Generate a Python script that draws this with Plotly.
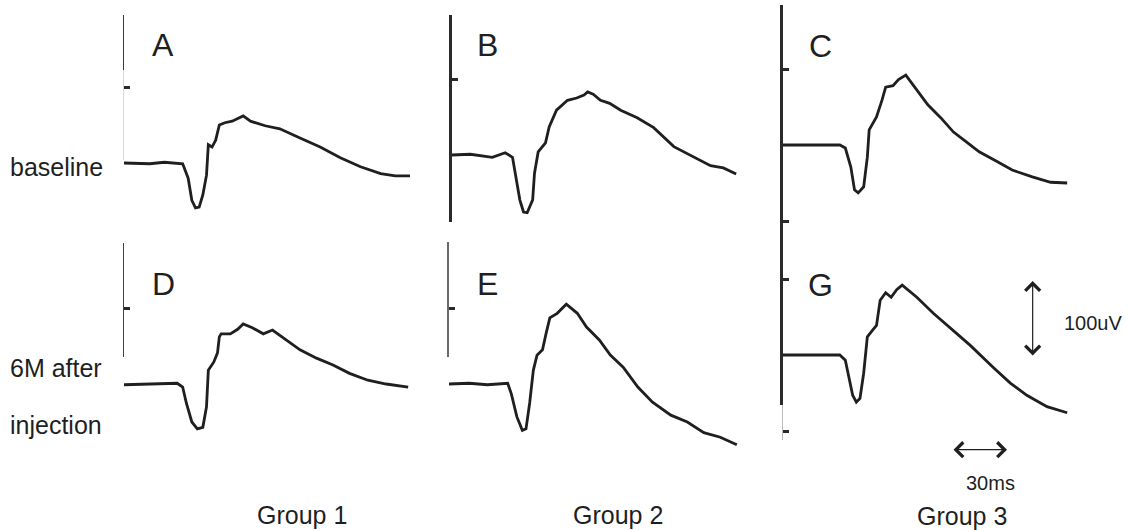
import plotly.graph_objects as go

# ---------------- data (time in ms, amplitude in uV) ----------------
A_t = [0, 14, 22, 31, 32, 35, 37, 39, 41, 43, 45, 46, 48, 50, 52, 55, 59, 65, 69, 77, 85, 96, 107, 118, 129, 140, 148, 156]
A_v = [0, -1, 1, 0, -1, -20, -49, -59, -58, -42, -16, 24, 21, 30, 50, 53, 55, 62, 55, 49, 45, 33, 21, 7, -5, -14, -17, -17]

B_t = [0, 10, 22, 29, 33, 35, 37, 39, 41, 44, 45, 47, 51, 53, 57, 63, 68, 72, 74, 77, 81, 86, 92, 101, 110, 121, 130, 141, 148, 155]
B_v = [0, 1, -3, 3, -3, -29, -59, -75, -76, -59, -24, 4, 16, 37, 59, 72, 75, 79, 83, 80, 72, 68, 59, 49, 36, 11, 0, -14, -17, -25]

C_t = [0, 31, 34, 37, 39, 41, 44, 46, 47, 51, 54, 56, 60, 63, 67, 71, 79, 86, 93, 100, 107, 117, 125, 136, 146, 155]
C_v = [0, 0, -4, -29, -59, -63, -55, -16, 20, 37, 59, 76, 78, 86, 92, 79, 53, 36, 17, 4, -9, -22, -33, -42, -49, -50]

D_t = [0, 14, 29, 32, 34, 37, 40, 43, 45, 46, 49, 51, 52, 53, 58, 62, 65, 70, 76, 81, 87, 96, 105, 114, 123, 133, 143, 155]
D_v = [-1, 0, 1, -4, -25, -50, -59, -57, -30, 18, 29, 41, 62, 66, 66, 72, 79, 74, 66, 71, 61, 45, 34, 25, 14, 5, 0, -4]

E_t = [0, 11, 21, 32, 34, 37, 40, 42, 44, 46, 48, 51, 53, 55, 59, 64, 70, 75, 82, 88, 95, 103, 111, 121, 130, 139, 148, 157]
E_v = [0, 1, -1, 1, -13, -43, -61, -59, -25, 18, 38, 45, 67, 87, 93, 105, 93, 75, 58, 38, 22, -4, -24, -41, -50, -64, -70, -80]

G_t = [0, 31, 34, 36, 38, 40, 42, 44, 46, 49, 51, 53, 56, 59, 62, 65, 73, 82, 91, 102, 115, 124, 133, 144, 155]
G_v = [0, 0, -7, -29, -53, -62, -57, -24, 24, 33, 39, 72, 82, 76, 86, 92, 76, 55, 36, 13, -17, -37, -53, -68, -76]

panel_letters = ["A", "B", "C", "D", "E", "G"]
row_labels = ["baseline", "6M after", "injection"]
group_labels = ["Group 1", "Group 2", "Group 3"]
tick_uv = [100, -100]          # calibration ticks on the vertical axes
SCALE_UV = 100
SCALE_MS = 30

# ---------------- layout geometry (pixels) ----------------
W, H = 1128, 530
PX_PER_MS = 55 / 30
PX_PER_UV = 0.76
FONT = "Liberation Sans, Arial, sans-serif"
INK = "#1f1f1f"

fig = go.Figure()
layout = dict(width=W, height=H, margin=dict(l=0, r=0, t=0, b=0),
              paper_bgcolor="white", plot_bgcolor="rgba(0,0,0,0)",
              showlegend=False, annotations=[])

counter = [0]
HIDDEN = dict(showline=False, showgrid=False, zeroline=False, showticklabels=False,
              ticks="", fixedrange=True)


def new_axes(left, right, top, bottom, x0, y0):
    counter[0] += 1
    i = counter[0]
    xk = "xaxis" if i == 1 else f"xaxis{i}"
    yk = "yaxis" if i == 1 else f"yaxis{i}"
    xs = "x" if i == 1 else f"x{i}"
    ys = "y" if i == 1 else f"y{i}"
    layout[xk] = dict(domain=[left / W, right / W],
                      range=[(left - x0) / PX_PER_MS, (right - x0) / PX_PER_MS],
                      anchor=ys, **HIDDEN)
    layout[yk] = dict(domain=[1 - bottom / H, 1 - top / H],
                      range=[(y0 - bottom) / PX_PER_UV, (y0 - top) / PX_PER_UV],
                      anchor=xs, **HIDDEN)
    return xs, ys, xk, yk


# trace panels: (t, v, box left,right,top,bottom, origin x0,y0)
panels = [
    (A_t, A_v, 124, 430, 0, 240, 124, 163),
    (B_t, B_v, 452, 760, 0, 240, 452, 155),
    (C_t, C_v, 783, 1100, 0, 228, 783, 145),
    (D_t, D_v, 124, 430, 232, 470, 124, 384),
    (E_t, E_v, 449, 760, 232, 470, 449, 384),
    (G_t, G_v, 783, 1100, 232, 470, 783, 355),
]
for t, v, l, r, tp, bt, x0, y0 in panels:
    xs, ys, _, _ = new_axes(l, r, tp, bt, x0, y0)
    fig.add_trace(go.Scatter(x=t, y=v, xaxis=xs, yaxis=ys, mode="lines",
                             line=dict(color=INK, width=2.8), hoverinfo="skip"))

# vertical axis lines with calibration ticks: (x0, top, bottom, y0, color, width, ticks)
frames = [
    (124, 15, 70, 163, "#3a3a3a", 1.4, []),
    (124, 70, 160, 163, "#d8d8d8", 1.0, [tick_uv[0]]),
    (452, 15, 222, 155, "#2a2a2a", 2.6, [tick_uv[0]]),
    (783, 5, 231, 145, "#2a2a2a", 2.6, tick_uv),
    (783, 231, 405, 355, "#2a2a2a", 2.6, [tick_uv[0]]),
    (783, 405, 440, 355, "#bbbbbb", 1.2, [tick_uv[1]]),
    (124, 243, 357, 384, "#444444", 1.4, [tick_uv[0]]),
    (449, 242, 357, 384, "#6a6a6a", 2.2, [tick_uv[0]]),
]
for x0, tp, bt, y0, col, lw, tv in frames:
    xs, ys, xk, yk = new_axes(x0, x0 + 10, tp, bt, x0, y0)
    layout[yk].update(showline=True, linecolor=col, linewidth=lw,
                      ticks="inside" if tv else "", tickmode="array", tickvals=tv,
                      ticklen=6, tickwidth=3, tickcolor="#2a2a2a")
    # empty placeholder trace so the axis-only subplot is created and drawn
    fig.add_trace(go.Scatter(x=[], y=[], xaxis=xs, yaxis=ys, mode="lines", hoverinfo="skip"))

# scale-bar subplot
sx, sy, _, _ = new_axes(930, 1128, 260, 500, 952, 357)
ann = layout["annotations"]
ann.append(dict(xref=sx, yref=sy, axref=sx, ayref=sy, x=44, y=SCALE_UV, ax=44, ay=0,
                text="", showarrow=True, arrowhead=4, startarrowhead=4, arrowside="end+start",
                arrowsize=2.4, arrowwidth=1.2, arrowcolor=INK, standoff=0, startstandoff=0))
ann.append(dict(xref=sx, yref=sy, axref=sx, ayref=sy, x=SCALE_MS, y=-122, ax=0, ay=-122,
                text="", showarrow=True, arrowhead=4, startarrowhead=4, arrowside="end+start",
                arrowsize=2.4, arrowwidth=1.2, arrowcolor=INK, standoff=0, startstandoff=0))
ann.append(dict(xref=sx, yref=sy, x=60, y=45, text=f"{SCALE_UV}uV", showarrow=False,
                xanchor="left", yanchor="middle", font=dict(family=FONT, size=20, color=INK)))
ann.append(dict(xref=sx, yref=sy, x=SCALE_MS / 2 + 6, y=-166, text=f"{SCALE_MS}ms", showarrow=False,
                xanchor="center", yanchor="middle", font=dict(family=FONT, size=20, color=INK)))


def paper_text(txt, px, py, size, anchor="center"):
    ann.append(dict(xref="paper", yref="paper", x=px / W, y=1 - py / H, text=txt,
                    showarrow=False, xanchor=anchor, yanchor="middle",
                    font=dict(family=FONT, size=size, color=INK)))


letter_pos = [(163, 45), (487, 45), (820, 46), (163, 284), (487, 284), (820, 285)]
for lt, (px, py) in zip(panel_letters, letter_pos):
    paper_text(lt, px, py, 32)

row_pos = [(8, 167), (8, 368), (8, 425)]
for lb, (px, py) in zip(row_labels, row_pos):
    paper_text(lb, px, py, 25, anchor="left")

group_pos = [(302, 515), (618, 515), (962, 516)]
for lb, (px, py) in zip(group_labels, group_pos):
    paper_text(lb, px, py, 25)

fig.update_layout(**layout)
fig.write_html("out.html", config={"displayModeBar": False},
               post_script="document.body.style.margin='0';document.body.style.overflow='hidden';")
